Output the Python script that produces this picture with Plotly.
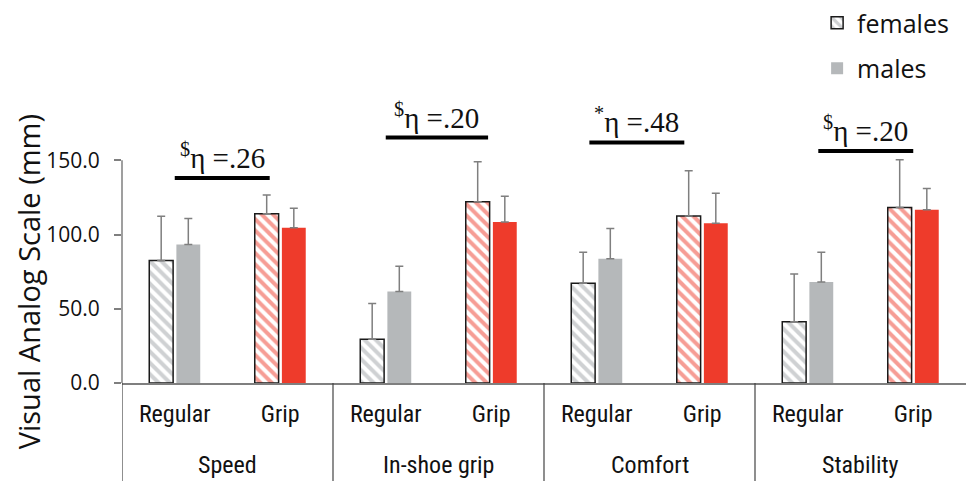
import plotly.graph_objects as go

groups = ["Speed", "In-shoe grip", "Comfort", "Stability"]
shoes = ["Regular", "Grip"]

females = [82.5, 113.9, 29.5, 122.0, 67.1, 112.5, 41.2, 118.1]
females_sd = [29.8, 12.7, 24.0, 27.0, 21.0, 30.5, 32.2, 32.2]
males = [93.3, 104.5, 61.7, 108.5, 83.7, 107.6, 68.0, 116.6]
males_sd = [17.4, 13.2, 17.0, 17.2, 20.3, 20.1, 20.1, 14.3]

sig_labels = ["<sup>$</sup>η =.26", "<sup>$</sup>η =.20", "<sup>*</sup>η =.48", "<sup>$</sup>η =.20"]
sig_level = [138.0, 165.3, 162.0, 156.2]
sig_start = [0.0, 0.0, -0.07, 0.1]
sig_end = [0.9, 0.97, 0.83, 1.0]

yticks = [0, 50, 100, 150]

GRAY = "#b5b8ba"
HATCH_GRAY = "#a0a4a7"
RED = "#ee3b2b"
AX = "#7f7f7f"

x_lvl2 = [s for _ in groups for s in shoes]
xpos = list(range(len(x_lvl2)))
fill_colors = [GRAY if s == "Regular" else RED for s in x_lvl2]
hatch_colors = [HATCH_GRAY if s == "Regular" else RED for s in x_lvl2]

fig = go.Figure()
fig.add_trace(go.Bar(
    name="females", x=xpos, y=females, legendgroup="f",
    marker=dict(color="white", line=dict(color="#1a1a1a", width=1.5),
                pattern=dict(shape="\\", fgcolor=hatch_colors, bgcolor="white",
                             size=8, solidity=0.5, fillmode="overlay")),
    error_y=dict(type="data", symmetric=False, array=females_sd,
                 arrayminus=[0] * len(females), color=AX, thickness=1.5, width=4),
))
fig.add_trace(go.Bar(
    name="males", x=xpos, y=males, legendgroup="m",
    marker=dict(color=fill_colors, line=dict(width=0)),
    error_y=dict(type="data", symmetric=False, array=males_sd,
                 arrayminus=[0] * len(males), color=AX, thickness=1.5, width=4),
))

n_per = len(shoes)
for i, g in enumerate(groups):
    base = n_per * i
    # significance bar + label
    fig.add_shape(type="line", xref="x", yref="y",
                  x0=base + sig_start[i], x1=base + sig_end[i],
                  y0=sig_level[i], y1=sig_level[i],
                  line=dict(color="black", width=4))
    fig.add_annotation(xref="x", yref="y",
                       x=base + (sig_start[i] + sig_end[i]) / 2, y=sig_level[i],
                       text=sig_labels[i], showarrow=False, yanchor="bottom", yshift=2,
                       font=dict(family="Liberation Serif", size=29, color="#111"))
    # group label
    fig.add_annotation(xref="x", yref="paper", x=base + (n_per - 1) / 2, y=-0.275,
                       text=g, showarrow=False, yanchor="middle",
                       font=dict(family="Liberation Sans Narrow, Roboto Condensed, Open Sans",
                                 size=24, color="#111"))
    # divider
    fig.add_shape(type="line", xref="x", yref="paper",
                  x0=base - 0.5, x1=base - 0.5, y0=0, y1=-0.34,
                  line=dict(color="#444", width=1.2), layer="above")

fig.add_shape(type="line", xref="paper", yref="y", x0=0, x1=0, y0=0, y1=150,
              line=dict(color=AX, width=1.5), layer="above")

fig.add_annotation(xref="paper", yref="paper", x=-0.111, y=0.34,
                   text="Visual Analog Scale (mm)", textangle=-90, showarrow=False,
                   xanchor="center", yanchor="middle",
                   font=dict(family="Open Sans", size=29, color="#111"))

fig.update_layout(
    width=967, height=481,
    margin=dict(l=122, r=1, t=86, b=98, autoexpand=False),
    paper_bgcolor="white", plot_bgcolor="white",
    barmode="group", bargap=0.486, bargroupgap=0.12,
    showlegend=True,
    legend=dict(xref="container", yref="container", x=0.845, y=1.003,
                xanchor="left", yanchor="top", traceorder="grouped",
                font=dict(family="Open Sans", size=25, color="#111"),
                itemwidth=30, tracegroupgap=10, bgcolor="rgba(0,0,0,0)"),
    font=dict(family="Open Sans", color="#111"),
)
fig.update_xaxes(
    range=[-0.5, len(xpos) - 0.5], tickvals=xpos, ticktext=x_lvl2,
    showline=True, linecolor=AX, linewidth=1.5, ticks="", ticklen=0,
    ticklabelstandoff=8, showgrid=False, zeroline=False,
    tickfont=dict(family="Liberation Sans Narrow, Roboto Condensed, Open Sans", size=24, color="#111"),
)
fig.update_yaxes(
    range=[0, 200], tickvals=yticks, tickformat=".1f", showline=False,
    showgrid=False, zeroline=False, ticks="outside", ticklen=7, tickcolor=AX, tickwidth=1.5,
    ticklabelstandoff=10,
    tickfont=dict(family="Open Sans", size=21, color="#111"),
)

fig.write_html("out.html", config={"displayModeBar": False},
               post_script="document.body.style.margin='0';document.body.style.overflow='hidden';")
